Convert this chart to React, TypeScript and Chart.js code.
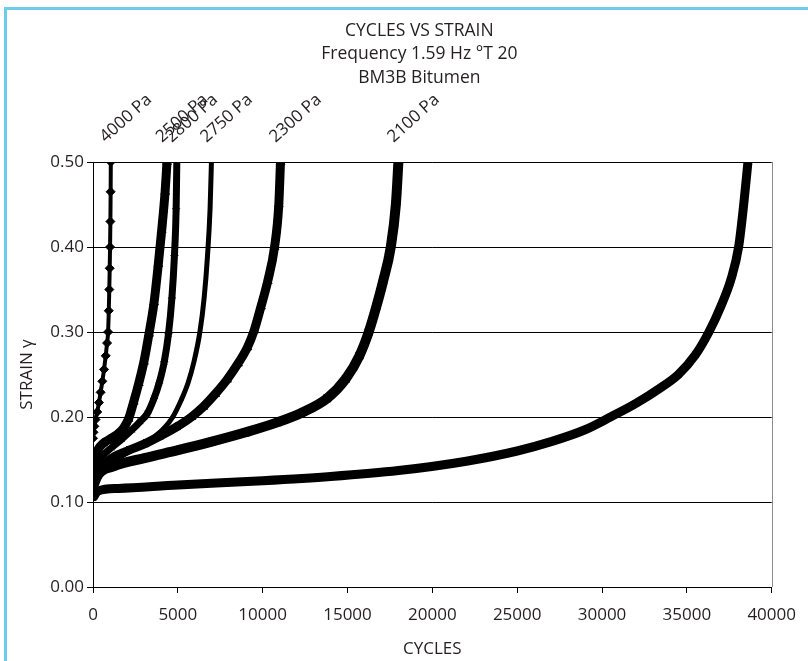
import React, { useEffect, useRef } from "react";
import { Chart, registerables } from "chart.js";

Chart.register(...registerables);

const FONT = "'Open Sans', 'Noto Sans', sans-serif";
const INK = "#231f20";

const titleLines = ["CYCLES VS STRAIN", "Frequency 1.59 Hz \u00B0T 20", "BM3B Bitumen"];
const xTitle = "CYCLES";
const yTitle = "STRAIN \u03B3";

const xMin = 0;
const xMax = 40000;
const xStep = 5000;
const yMin = 0;
const yMax = 0.5;
const yStep = 0.1;

const seriesNames = ["4000 Pa", "2500 Pa", "2800 Pa", "2750 Pa", "2300 Pa", "2100 Pa", ""];

const cycles4000 = [0, 30, 80, 150, 250, 350, 450, 550, 650, 750, 830, 890, 930, 960, 985, 1005, 1025, 1040, 1050];
const strain4000 = [0.175, 0.182, 0.189, 0.197, 0.206, 0.217, 0.229, 0.242, 0.256, 0.272, 0.287, 0.3, 0.325, 0.35, 0.375, 0.4, 0.43, 0.465, 0.5];

const cycles2500 = [0, 100, 300, 600, 1000, 1400, 1800, 2100, 2400, 2700, 3000, 3300, 3600, 3850, 4050, 4250, 4360];
const strain2500 = [0.14, 0.152, 0.162, 0.169, 0.174, 0.179, 0.187, 0.198, 0.218, 0.24, 0.265, 0.298, 0.335, 0.38, 0.42, 0.465, 0.5];

const cycles2800 = [0, 200, 600, 1100, 1700, 2300, 2800, 3200, 3600, 3900, 4200, 4450, 4650, 4800, 4900, 4940];
const strain2800 = [0.125, 0.144, 0.155, 0.164, 0.174, 0.185, 0.195, 0.204, 0.222, 0.24, 0.265, 0.298, 0.34, 0.39, 0.445, 0.5];

const cycles2750 = [0, 300, 900, 1700, 2600, 3500, 4200, 4700, 5200, 5600, 5950, 6300, 6550, 6750, 6900, 6980];
const strain2750 = [0.118, 0.132, 0.143, 0.154, 0.164, 0.175, 0.187, 0.2, 0.22, 0.24, 0.265, 0.3, 0.34, 0.39, 0.445, 0.5];

const cycles2300 = [0, 300, 1000, 2000, 3000, 3900, 4900, 5800, 6500, 7200, 7900, 8550, 9100, 9500, 9900, 10300, 10700, 10950, 11050];
const strain2300 = [0.118, 0.135, 0.15, 0.16, 0.168, 0.177, 0.188, 0.2, 0.212, 0.227, 0.244, 0.263, 0.282, 0.302, 0.33, 0.36, 0.4, 0.45, 0.5];

const cycles2100 = [0, 300, 1200, 3100, 5000, 7000, 9000, 10900, 12400, 13800, 14900, 15700, 16250, 16700, 17100, 17550, 17850, 18000];
const strain2100 = [0.118, 0.132, 0.142, 0.152, 0.161, 0.171, 0.182, 0.194, 0.206, 0.222, 0.245, 0.272, 0.3, 0.33, 0.36, 0.4, 0.45, 0.5];

const cyclesLast = [0, 300, 1500, 5000, 10000, 14000, 18000, 22000, 25000, 27000, 29000, 30500, 32000, 33500, 34500, 35500, 36300, 37000, 37600, 38050, 38350, 38600];
const strainLast = [0.105, 0.113, 0.116, 0.12, 0.125, 0.13, 0.137, 0.148, 0.16, 0.171, 0.185, 0.2, 0.216, 0.235, 0.25, 0.273, 0.3, 0.33, 0.362, 0.4, 0.45, 0.5];

const seriesCycles = [cycles4000, cycles2500, cycles2800, cycles2750, cycles2300, cycles2100, cyclesLast];
const seriesStrain = [strain4000, strain2500, strain2800, strain2750, strain2300, strain2100, strainLast];

// styling per series (marker look and band thickness)
const seriesStyle = [
  { width: 4, marker: "rectRot", radius: 4.5 },
  { width: 9, marker: "triangle", radius: 5 },
  { width: 7, marker: "star", radius: 4 },
  { width: 5, marker: "rect", radius: 2 },
  { width: 9, marker: "triangle", radius: 5 },
  { width: 10, marker: "rect", radius: 5 },
  { width: 9, marker: "rect", radius: 4 },
];

const titlePlugin = {
  id: "manualTitle",
  afterDraw(chart: any) {
    const { ctx, chartArea } = chart;
    ctx.save();
    ctx.fillStyle = INK;
    ctx.font = `17.5px ${FONT}`;
    ctx.textAlign = "center";
    ctx.textBaseline = "middle";
    const cx = (chartArea.left + chartArea.right) / 2 - 13;
    titleLines.forEach((t, i) => ctx.fillText(t, cx, 31 + i * 23.5));
    ctx.restore();
  },
};

const framePlugin = {
  id: "rightFrame",
  beforeDatasetsDraw(chart: any) {
    const { ctx, chartArea } = chart;
    ctx.save();
    ctx.strokeStyle = "#8c8c8c";
    ctx.lineWidth = 1;
    ctx.beginPath();
    ctx.moveTo(Math.round(chartArea.right) + 0.5, chartArea.top);
    ctx.lineTo(Math.round(chartArea.right) + 0.5, chartArea.bottom);
    ctx.stroke();
    ctx.restore();
  },
};

const endLabelPlugin = {
  id: "endLabels",
  afterDatasetsDraw(chart: any) {
    const { ctx } = chart;
    ctx.save();
    ctx.fillStyle = INK;
    ctx.font = `17px ${FONT}`;
    ctx.textAlign = "left";
    ctx.textBaseline = "alphabetic";
    chart.data.datasets.forEach((ds: any, i: number) => {
      if (!ds.label) return;
      const meta = chart.getDatasetMeta(i);
      const pt = meta.data[meta.data.length - 1];
      if (!pt) return;
      ctx.save();
      ctx.translate(pt.x - 5, pt.y - 19);
      ctx.rotate((-42 * Math.PI) / 180);
      ctx.fillText(ds.label, 0, 0);
      ctx.restore();
    });
    ctx.restore();
  },
};

export default function App() {
  const ref = useRef<HTMLCanvasElement>(null);

  useEffect(() => {
    const canvas = ref.current;
    if (!canvas) return;
    const datasets = seriesNames.map((name, i) => ({
      label: name,
      data: seriesCycles[i].map((c, j) => ({ x: c, y: seriesStrain[i][j] })),
      showLine: true,
      borderColor: "#000",
      backgroundColor: "#000",
      borderWidth: seriesStyle[i].width,
      pointStyle: seriesStyle[i].marker,
      pointRadius: seriesStyle[i].radius,
      pointBorderColor: "#000",
      pointBackgroundColor: "#000",
      pointBorderWidth: 1,
      cubicInterpolationMode: "monotone" as const,
    }));

    const chart = new Chart(canvas, {
      type: "scatter",
      data: { datasets },
      options: {
        responsive: false,
        animation: false,
        devicePixelRatio: 1,
        layout: { padding: { top: 162, right: 27, bottom: 0, left: 0 } },
        plugins: {
          legend: { display: false },
          tooltip: { enabled: false },
          title: { display: false },
        },
        scales: {
          x: {
            type: "linear",
            min: xMin,
            max: xMax,
            ticks: {
              stepSize: xStep,
              color: INK,
              font: { family: FONT, size: 17 },
              padding: 12,
              maxRotation: 0,
              callback: (v: any) => String(v),
            },
            grid: { drawOnChartArea: false, color: "#000", tickColor: "#000", tickLength: 6 },
            border: { color: "#000", width: 1 },
            title: {
              display: true,
              text: xTitle,
              color: INK,
              font: { family: FONT, size: 17 },
              padding: { top: 0, bottom: 2 },
            },
            afterFit: (axis: any) => {
              axis.height = 661 - 587;
            },
          },
          y: {
            type: "linear",
            min: yMin,
            max: yMax,
            ticks: {
              stepSize: yStep,
              color: INK,
              font: { family: FONT, size: 17 },
              padding: 3,
              callback: (v: any) => Number(v).toFixed(2),
            },
            grid: { color: "#000", tickColor: "#000", tickLength: 6, lineWidth: 1 },
            border: { color: "#000", width: 1 },
            title: {
              display: true,
              text: yTitle,
              color: INK,
              font: { family: FONT, size: 17 },
              padding: { top: 17, bottom: 0 },
            },
            afterFit: (axis: any) => {
              axis.width = 93;
            },
          },
        },
      },
      plugins: [framePlugin, titlePlugin, endLabelPlugin],
    } as any);

    return () => chart.destroy();
  }, []);

  return (
    <div
      style={{
        position: "fixed",
        left: 0,
        top: 0,
        width: 808,
        height: 661,
        background: "#fff",
        overflow: "hidden",
      }}
    >
      <div
        style={{
          position: "absolute",
          left: 4,
          top: 7,
          width: 900,
          height: 900,
          borderLeft: "3px solid #6ecbea",
          borderTop: "3px solid #6ecbea",
          boxSizing: "border-box",
        }}
      />
      <canvas
        ref={ref}
        width={808}
        height={661}
        style={{ position: "absolute", left: 0, top: 0, width: 808, height: 661 }}
      />
    </div>
  );
}
